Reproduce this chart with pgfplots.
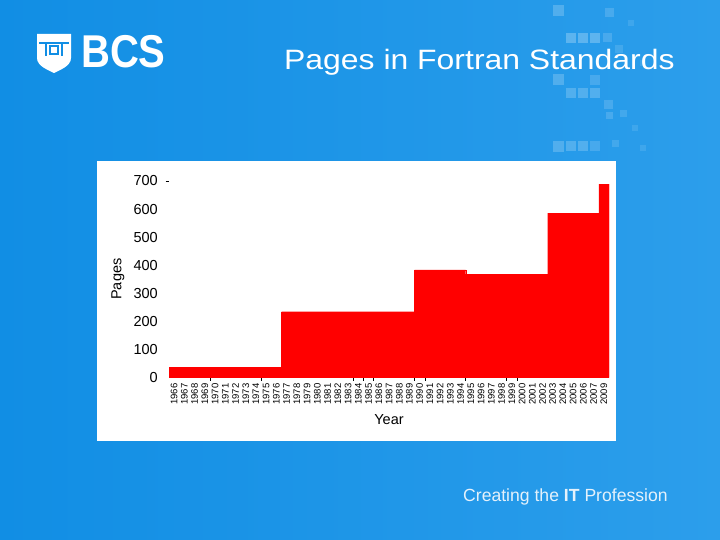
\documentclass[border=0pt]{standalone}
\usepackage{pgfplots}
\pgfplotsset{compat=1.18}
\usepackage{pgfplotstable}
\usepackage{graphicx}
\usepackage{fontspec}
\setmainfont{Liberation Sans}
\definecolor{bgL}{RGB}{17,142,228}
\definecolor{bgR}{RGB}{44,158,235}
\definecolor{barred}{RGB}{255,0,0}
\definecolor{footer}{RGB}{228,241,251}

% pages per year (index 0 = 1966, ..., 41 = 2007, 42 = 2009)
\pgfplotstableread{
idx pages
0 36
1 36
2 36
3 36
4 36
5 36
6 36
7 36
8 36
9 36
10 36
11 234
12 234
13 234
14 234
15 234
16 234
17 234
18 234
19 234
20 234
21 234
22 234
23 234
24 383
25 383
26 383
27 383
28 383
29 368
30 368
31 368
32 368
33 368
34 368
35 368
36 368
37 585
38 585
39 585
40 585
41 585
42 689
}\fortrandata

\begin{document}
\begin{tikzpicture}[x=1pt,y=1pt]
\useasboundingbox (0,0) rectangle (720,540);
\clip (0,0) rectangle (720,540);
\shade[left color=bgL, right color=bgR] (0,0) rectangle (720,540);
% decorative squares
\foreach \qa/\qb/\qs/\qo in {553/5/11/.2, 566/33/10/.25, 578/33/10/.25, 590/33/10/.25, 603/33/9/.15,
  553/74/11/.2, 590/75/10/.15, 566/88/10/.2, 578/88/10/.2, 590/88/10/.2, 604/100/9/.15, 606/112/7/.15,
  553/141/11/.2, 566/141/10/.2, 578/141/10/.2, 590/141/10/.15, 605/8/9/.15, 615/45/8/.12,
  620/110/7/.12, 632/125/6/.1, 640/60/6/.1, 628/20/6/.1, 612/140/7/.12, 640/145/6/.1}
  {\fill[white,opacity=\qo] (\qa,{540-\qb}) rectangle ({\qa+\qs},{540-\qb-\qs});}
% white panel
\fill[white] (97,99) rectangle (616,379);
\begin{axis}[
  at={(169pt,162.7pt)}, anchor=south west,
  scale only axis, width=440pt, height=196.3pt,
  xmin=-0.5, xmax=42.5, ymin=0, ymax=700,
  enlargelimits=false,
  axis line style={draw=none},
  tick pos=left,
  major tick length=0pt,
  xtick={0,...,42},
  xticklabels={1966,1967,1968,1969,1970,1971,1972,1973,1974,1975,1976,1977,1978,1979,1980,1981,1982,1983,1984,1985,1986,1987,1988,1989,1990,1991,1992,1993,1994,1995,1996,1997,1998,1999,2000,2001,2002,2003,2004,2005,2006,2007,2009},
  xticklabel style={rotate=90, anchor=east, inner sep=0pt, font=\fontsize{9.5}{10}\selectfont},
  xticklabel shift=6pt,
  ytick={0,100,...,700},
  yticklabel style={anchor=east, inner sep=0pt, font=\fontsize{14.5}{15}\selectfont},
  yticklabel shift=11pt,
  /pgf/number format/assume math mode=true,
  extra x ticks={3.5,8.5,17.5,18.5,19.5,23.5,24.5,28.5,32.5,33.5},
  extra x tick labels={},
  extra y ticks={700},
  extra y tick labels={},
  extra tick style={major tick length=3.5pt, tick align=outside, tick style={black, line width=0.6pt}},
  xlabel={Year}, ylabel={Pages},
  every axis x label/.style={at={(axis description cs:0.5,0)}, anchor=base, yshift=-47pt, font=\fontsize{14.5}{15}\selectfont},
  every axis y label/.style={at={(axis description cs:-0.1159,0.5)}, rotate=90, anchor=center, font=\fontsize{14.5}{15}\selectfont},
]
\addplot[ybar, bar width=1, bar shift=0pt, fill=barred, draw=barred, line width=0.2pt] table[x=idx, y=pages] {\fortrandata};
\end{axis}
% title
\node[anchor=base west, inner sep=0pt, text=white, font=\fontsize{28}{30}\selectfont] at (284,470) {\scalebox{1.14}[1]{Pages in Fortran Standards}};
% logo
\fill[white] (37,506) -- (71,506) -- (71,482) .. controls (71,474) and (60,470) .. (54,467) .. controls (48,470) and (37,474) .. (37,482) -- cycle;
\draw[bgL, line width=1.5pt] (39,497) -- (69,497);
\draw[bgL, line width=1.5pt] (46,497) -- (46,484) (62,497) -- (62,484);
\draw[bgL, line width=1.3pt] (50,494) rectangle (58,486);
\node[anchor=base west, inner sep=0pt, text=white, font=\bfseries\fontsize{46}{46}\selectfont] at (81,472) {\scalebox{0.87}[1]{BCS}};
% footer
\node[anchor=base west, inner sep=0pt, text=footer, font=\fontsize{17.6}{18}\selectfont] at (463,38.3) {Creating the \textbf{IT} Profession};
\end{tikzpicture}
\end{document}
